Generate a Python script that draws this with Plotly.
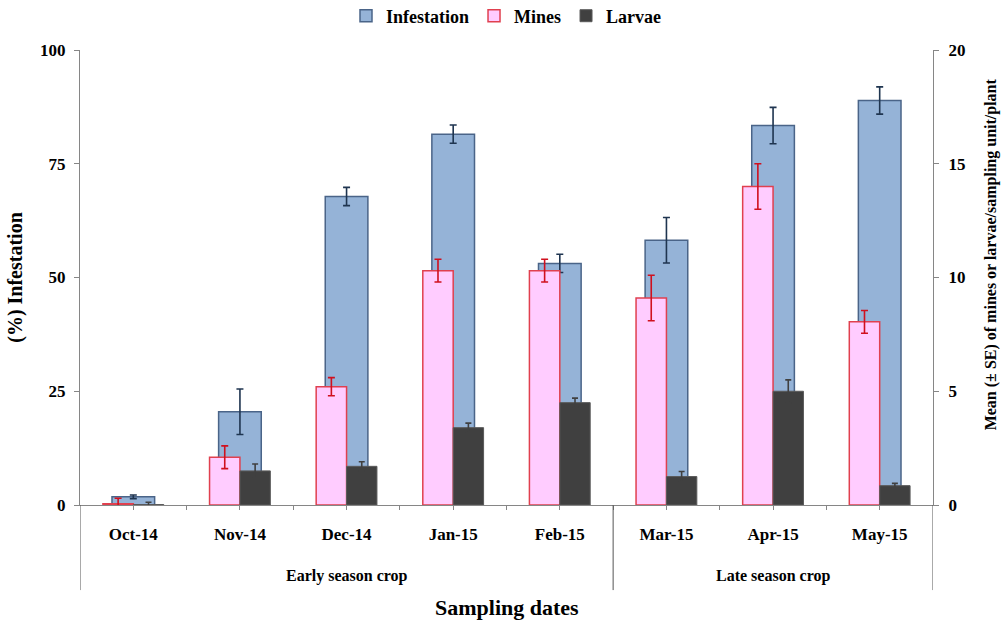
import plotly.graph_objects as go

months = ["Oct-14", "Nov-14", "Dec-14", "Jan-15", "Feb-15", "Mar-15", "Apr-15", "May-15"]
season_names = ["Early season crop", "Late season crop"]
season_centers = [2, 6]          # category index at the middle of each season
season_bounds = [-0.5, 4.5, 7.5]  # category boundaries separating the seasons

infestation = [1.8, 20.5, 67.8, 81.5, 53.1, 58.2, 83.4, 88.9]
infestation_se = [0.4, 5.0, 2.0, 2.0, 2.0, 5.0, 4.0, 3.0]
mines = [0.05, 2.1, 5.2, 10.3, 10.3, 9.1, 14.0, 8.05]
mines_se = [0.25, 0.5, 0.4, 0.5, 0.5, 1.0, 1.0, 0.5]
larvae = [0.02, 1.5, 1.7, 3.4, 4.5, 1.25, 5.0, 0.85]
larvae_se = [0.1, 0.3, 0.2, 0.2, 0.2, 0.22, 0.5, 0.1]

left_ticks = [0, 25, 50, 75, 100]
right_ticks = [0, 5, 10, 15, 20]

FONT = "Liberation Serif"
n = len(months)

fig = go.Figure()

fig.add_trace(go.Bar(
    name="Infestation", x=months, y=infestation, yaxis="y",
    width=[0.40] * n, offset=[-0.20] * n,
    marker=dict(color="#95B3D7", line=dict(color="#4A6488", width=1.5)),
    error_y=dict(type="data", array=infestation_se, color="#1F3550", thickness=1.6, width=3.5),
))
fig.add_trace(go.Bar(
    name="Mines", x=months, y=mines, yaxis="y2",
    width=[0.285] * n, offset=[-0.285] * n,
    marker=dict(color="#FFCCFF", line=dict(color="#E0404F", width=1.5)),
    error_y=dict(type="data", array=mines_se, color="#D0101E", thickness=1.6, width=3.5),
))
fig.add_trace(go.Bar(
    name="Larvae", x=months, y=larvae, yaxis="y2",
    width=[0.285] * n, offset=[0.0] * n,
    marker=dict(color="#404040", line=dict(color="#5A5A5A", width=1)),
    error_y=dict(type="data", array=larvae_se, color="#404040", thickness=1.6, width=3),
))
# invisible trace so the overlaid linear axis (small tick marks) is drawn
fig.add_trace(go.Scatter(
    x=[0], y=[0], xaxis="x2", yaxis="y", mode="markers",
    marker=dict(opacity=0), showlegend=False, hoverinfo="skip",
))

# season dividers below the axis
for b in season_bounds:
    fig.add_shape(type="line", xref="x", yref="paper", x0=b, x1=b, y0=0, y1=-0.187,
                  line=dict(color="#555555", width=1))
# season labels
for name, c in zip(season_names, season_centers):
    fig.add_annotation(x=c, xref="x", y=-0.156, yref="paper", text=name, showarrow=False,
                       xanchor="center", yanchor="middle",
                       font=dict(family=FONT, size=16, weight="bold", color="#000000"))
fig.add_annotation(x=0.5, xref="paper", y=-0.226, yref="paper", text="Sampling dates",
                   showarrow=False, xanchor="center", yanchor="middle",
                   font=dict(family=FONT, size=22, weight="bold", color="#000000"))
# right axis title
fig.add_annotation(x=1.0674, xref="paper", y=0.552, yref="paper",
                   text="Mean (± SE) of mines or larvae/sampling unit/plant",
                   textangle=-90, showarrow=False, xanchor="center", yanchor="middle",
                   font=dict(family=FONT, size=16, weight="bold", color="#000000"))

axis_font = dict(family=FONT, size=17, color="#000000", weight="bold")

fig.update_layout(
    width=1003, height=623,
    margin=dict(l=80, r=70, t=50, b=118, autoexpand=False),
    paper_bgcolor="white", plot_bgcolor="white",
    barmode="overlay",
    font=dict(family=FONT, color="#000000"),
    showlegend=True,
    legend=dict(
        orientation="h", x=0.5, xanchor="center", y=1.0747, yanchor="middle",
        font=dict(family=FONT, size=18, weight="bold", color="#000000"),
        itemwidth=30, tracegroupgap=0,
    ),
    xaxis=dict(
        type="category",
        showline=True, linecolor="#868686", linewidth=1,
        ticks="", showgrid=False, zeroline=False,
        tickfont=dict(family=FONT, size=17, weight="bold", color="#000000"),
        ticklabelstandoff=14,
        range=[-0.5, 7.5],
    ),
    xaxis2=dict(
        overlaying="x", anchor="y", side="bottom",
        range=[-0.5, 7.5], tickvals=[i * 0.5 for i in range(0, 15)],
        ticks="outside", ticklen=4, tickcolor="#868686",
        showticklabels=False, showgrid=False, zeroline=False, showline=False,
    ),
    yaxis=dict(
        range=[0, 100], tickvals=left_ticks,
        showline=True, linecolor="#868686", linewidth=1,
        ticks="outside", ticklen=5, tickcolor="#868686",
        showgrid=False, zeroline=False,
        tickfont=axis_font, ticklabelstandoff=5,
        title=dict(text="(%) Infestation", font=dict(family=FONT, size=20, weight="bold", color="#000000"), standoff=12),
    ),
    yaxis2=dict(
        range=[0, 20], tickvals=right_ticks, overlaying="y", side="right",
        showline=True, linecolor="#868686", linewidth=1,
        ticks="outside", ticklen=5, tickcolor="#868686",
        showgrid=False, zeroline=False,
        tickfont=axis_font, ticklabelstandoff=6,
    ),
)

fig.write_html("out.html")
